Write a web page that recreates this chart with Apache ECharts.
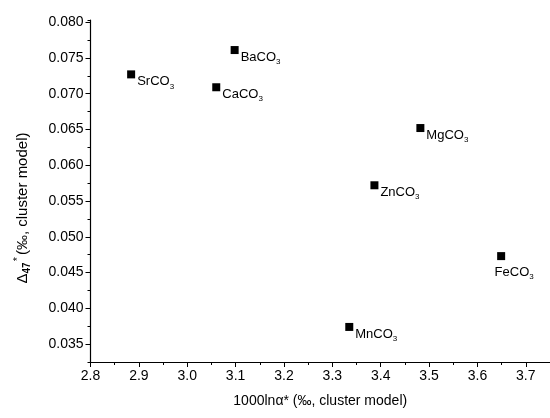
<!DOCTYPE html>
<html><head><meta charset="utf-8">
<script src="https://cdn.jsdelivr.net/npm/echarts@6/dist/echarts.min.js"></script>
<style>html,body{margin:0;padding:0;background:#fff}#c{width:550px;height:418px}</style>
</head><body><div id="c"></div>
<script>
const names = ['SrCO', 'BaCO', 'CaCO', 'MgCO', 'ZnCO', 'FeCO', 'MnCO'];
const xValues = [2.884, 3.098, 3.060, 3.482, 3.387, 3.649, 3.335];
const yValues = [0.0727, 0.0761, 0.0709, 0.0652, 0.0572, 0.0473, 0.0374];
const labelBelow = [false, false, false, false, false, true, false];
const yTicks = [0.035, 0.040, 0.045, 0.050, 0.055, 0.060, 0.065, 0.070, 0.075, 0.080];
const xTicks = [2.8, 2.9, 3.0, 3.1, 3.2, 3.3, 3.4, 3.5, 3.6, 3.7];

const FONT = 'Liberation Sans, Arial, sans-serif';
const rich = {
  t: {fontSize: 13, fontFamily: FONT, color: '#000'},
  s: {fontSize: 8, fontFamily: FONT, color: '#000', padding: [10, 0, 0, 0]}
};
const data = names.map((n, i) => ({
  value: [xValues[i], yValues[i]],
  label: labelBelow[i]
    ? {show: true, position: 'bottom', offset: [13, -2], formatter: '{t|' + n + '}{s|3}', rich}
    : {show: true, position: 'right', offset: [-3, 7], formatter: '{t|' + n + '}{s|3}', rich}
}));

const YMIN = 0.0325, YMAX = 0.0803;
const axisLine = {show: true, onZero: false, lineStyle: {color: '#000', width: 1.2}};

const chart = echarts.init(document.getElementById('c'));
chart.setOption({
  animation: false,
  grid: {left: 90.5, right: 0, top: 20, bottom: 56, containLabel: false},
  xAxis: {
    type: 'value', min: 2.8, max: 3.75, interval: 0.1,
    name: '1000lnα* (‰, cluster model)', nameLocation: 'middle', nameGap: 32,
    nameTextStyle: {fontSize: 14, fontFamily: FONT, color: '#000'},
    axisLine: axisLine,
    axisTick: {show: true, inside: false, length: 5, lineStyle: {color: '#000'}},
    minorTick: {show: true, splitNumber: 2, length: 3, lineStyle: {color: '#000'}},
    splitLine: {show: false},
    axisLabel: {fontSize: 14, fontFamily: FONT, color: '#000', margin: 7,
      customValues: xTicks, formatter: v => v.toFixed(1)}
  },
  yAxis: [{
    type: 'value', min: YMIN, max: YMAX, interval: 0.0025,
    axisLine: axisLine,
    axisTick: {show: true, inside: false, length: 3, lineStyle: {color: '#000'}},
    splitLine: {show: false},
    axisLabel: {show: false}
  }, {
    type: 'value', min: YMIN, max: YMAX, position: 'left',
    name: '{d|Δ}{s|47}{u|*}{t|(‰, cluster model)}', nameLocation: 'middle', nameGap: 58,
    nameTextStyle: {fontSize: 15, fontFamily: FONT, color: '#000',
      rich: {
        d: {fontSize: 15, fontFamily: FONT, color: '#000'},
        s: {fontSize: 10, fontFamily: FONT, fontWeight: 'bold', color: '#000', padding: [10, 1, 0, 0]},
        u: {fontSize: 11, fontFamily: FONT, color: '#000', padding: [0, 0, 9, 0]},
        t: {fontSize: 15, fontFamily: FONT, color: '#000', padding: [0, 34, 0, 2]}
      }},
    axisLine: {show: false},
    axisTick: {show: true, inside: false, length: 5, customValues: yTicks, lineStyle: {color: '#000'}},
    splitLine: {show: false},
    axisLabel: {fontSize: 14, fontFamily: FONT, color: '#000', margin: 7,
      customValues: yTicks, formatter: v => v.toFixed(3)}
  }],
  series: [{
    type: 'scatter', symbol: 'rect', symbolSize: 8, yAxisIndex: 0,
    itemStyle: {color: '#000', opacity: 1},
    data: data
  }]
});
</script></body></html>
